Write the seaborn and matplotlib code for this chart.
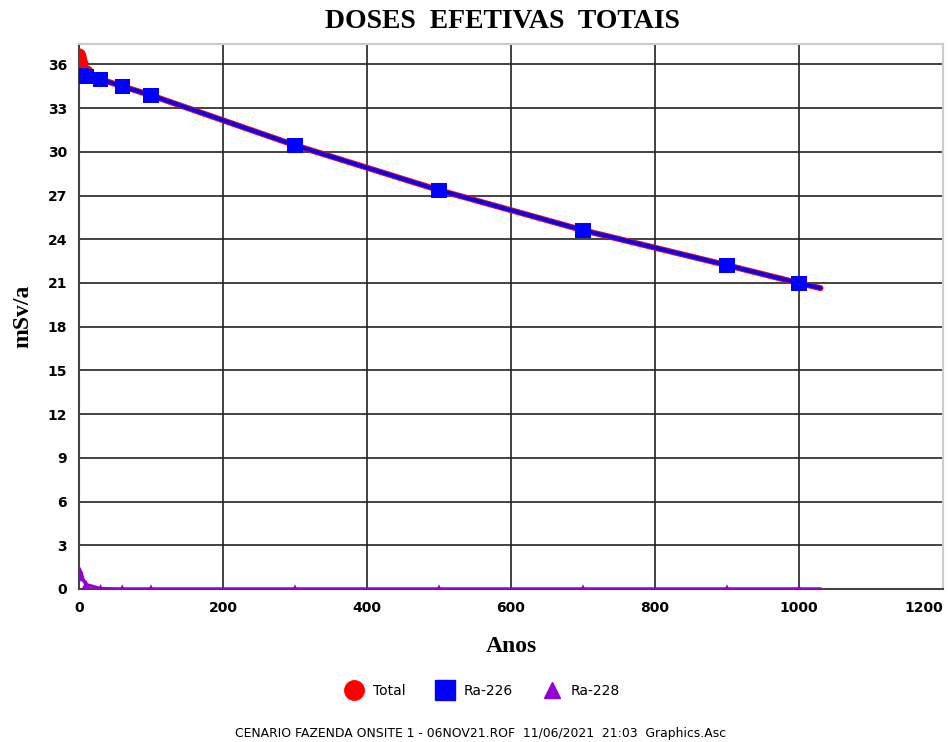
import matplotlib
matplotlib.use("Agg")
import matplotlib.pyplot as plt
from matplotlib.lines import Line2D
import seaborn as sns
import numpy as np
import pandas as pd

# Time points (years) and dose values (mSv/a)
anos = [0, 1, 3, 10, 30, 60, 100, 300, 500, 700, 900, 1000, 1030]
ra226 = [35.25, 35.23, 35.2, 35.15, 34.96, 34.5, 33.88, 30.45, 27.37, 24.62, 22.22, 20.99, 20.65]
ra228 = [1.35, 1.15, 0.85, 0.3, 0.02, 0.0, 0.0, 0.0, 0.0, 0.0, 0.0, 0.0, 0.0]
total = [a + b for a, b in zip(ra226, ra228)]
n_marked = 12  # last time point is line-only

title = "DOSES  EFETIVAS  TOTAIS"
xlabel = "Anos"
ylabel = "mSv/a"
series_names = ["Total", "Ra-226", "Ra-228"]
footer = "CENARIO FAZENDA ONSITE 1 - 06NOV21.ROF  11/06/2021  21:03  Graphics.Asc"
xticks = [0, 200, 400, 600, 800, 1000, 1200]
yticks = list(range(0, 37, 3))

df = pd.DataFrame({"Anos": anos, "Total": total, "Ra-226": ra226, "Ra-228": ra228})
dm = df.iloc[:n_marked]

sns.set_theme(style="white")
plt.rcParams["font.family"] = ["DejaVu Sans"]
plt.rcParams.update({"text.color": "black", "axes.labelcolor": "black",
                     "xtick.color": "black", "ytick.color": "black"})

fig = plt.figure(figsize=(9.49, 7.42), dpi=100)
ax = fig.add_axes([79 / 949, 1 - 589 / 742, (943 - 79) / 949, (589 - 44) / 742])

red, blue, purple = "#FF0000", "#0000FF", "#9400D3"

sns.lineplot(data=df, x="Anos", y="Total", ax=ax, color=red, lw=4.3, zorder=3)
sns.lineplot(data=df, x="Anos", y="Ra-226", ax=ax, color=blue, lw=2.8, zorder=4)
sns.lineplot(data=df, x="Anos", y="Ra-228", ax=ax, color=purple, lw=2.5, zorder=4)

sns.scatterplot(data=dm, x="Anos", y="Total", ax=ax, color=red, marker="o", s=110,
                edgecolor="none", zorder=5)
sns.scatterplot(data=dm, x="Anos", y="Ra-226", ax=ax, color=blue, marker="s", s=120,
                edgecolor="none", zorder=6)
sns.scatterplot(data=dm, x="Anos", y="Ra-228", ax=ax, color=purple, marker="^", s=45,
                edgecolor="none", zorder=6)

ax.set_xlim(0, 1200)
ax.set_ylim(0, 37.4)
ax.set_xticks(xticks)
ax.set_yticks(yticks)
ax.grid(True, color="#222222", lw=1.2, zorder=1)
ax.set_axisbelow(True)
ax.get_xgridlines()[-1].set_visible(False)

for side in ["top", "right"]:
    ax.spines[side].set_color("#cccccc")
    ax.spines[side].set_linewidth(1.5)
for side in ["left", "bottom"]:
    ax.spines[side].set_color("#444444")
    ax.spines[side].set_linewidth(1.5)

ax.tick_params(axis="both", which="both", length=5, width=1.2, color="#444444",
               direction="out", labelsize=10)
for lab in ax.get_xticklabels() + ax.get_yticklabels():
    lab.set_fontweight("bold")
ax.get_xticklabels()[-1].set_horizontalalignment("right")

ax.set_xlabel(xlabel, fontsize=17, fontweight="bold", family="Liberation Serif", labelpad=15)
ax.set_ylabel(ylabel, fontsize=17, fontweight="bold", family="Liberation Serif", labelpad=10)
fig.text(502 / 949, 1 - 22 / 742, title, ha="center", va="center",
         fontsize=20, fontweight="bold", family="Liberation Serif")

handles = [
    Line2D([], [], ls="none", marker="o", color=red, markersize=14),
    Line2D([], [], ls="none", marker="s", color=blue, markersize=14),
    Line2D([], [], ls="none", marker="^", color=purple, markersize=11),
]
fig.legend(handles, series_names, loc="center", bbox_to_anchor=(480 / 949, 1 - 691 / 742),
           ncol=3, frameon=False, fontsize=10, handletextpad=0.35, columnspacing=1.8)

fig.text(480 / 949, 1 - 733 / 742, footer, ha="center", va="center", fontsize=8.9)

fig.savefig("out.png", dpi=100, facecolor="white")
